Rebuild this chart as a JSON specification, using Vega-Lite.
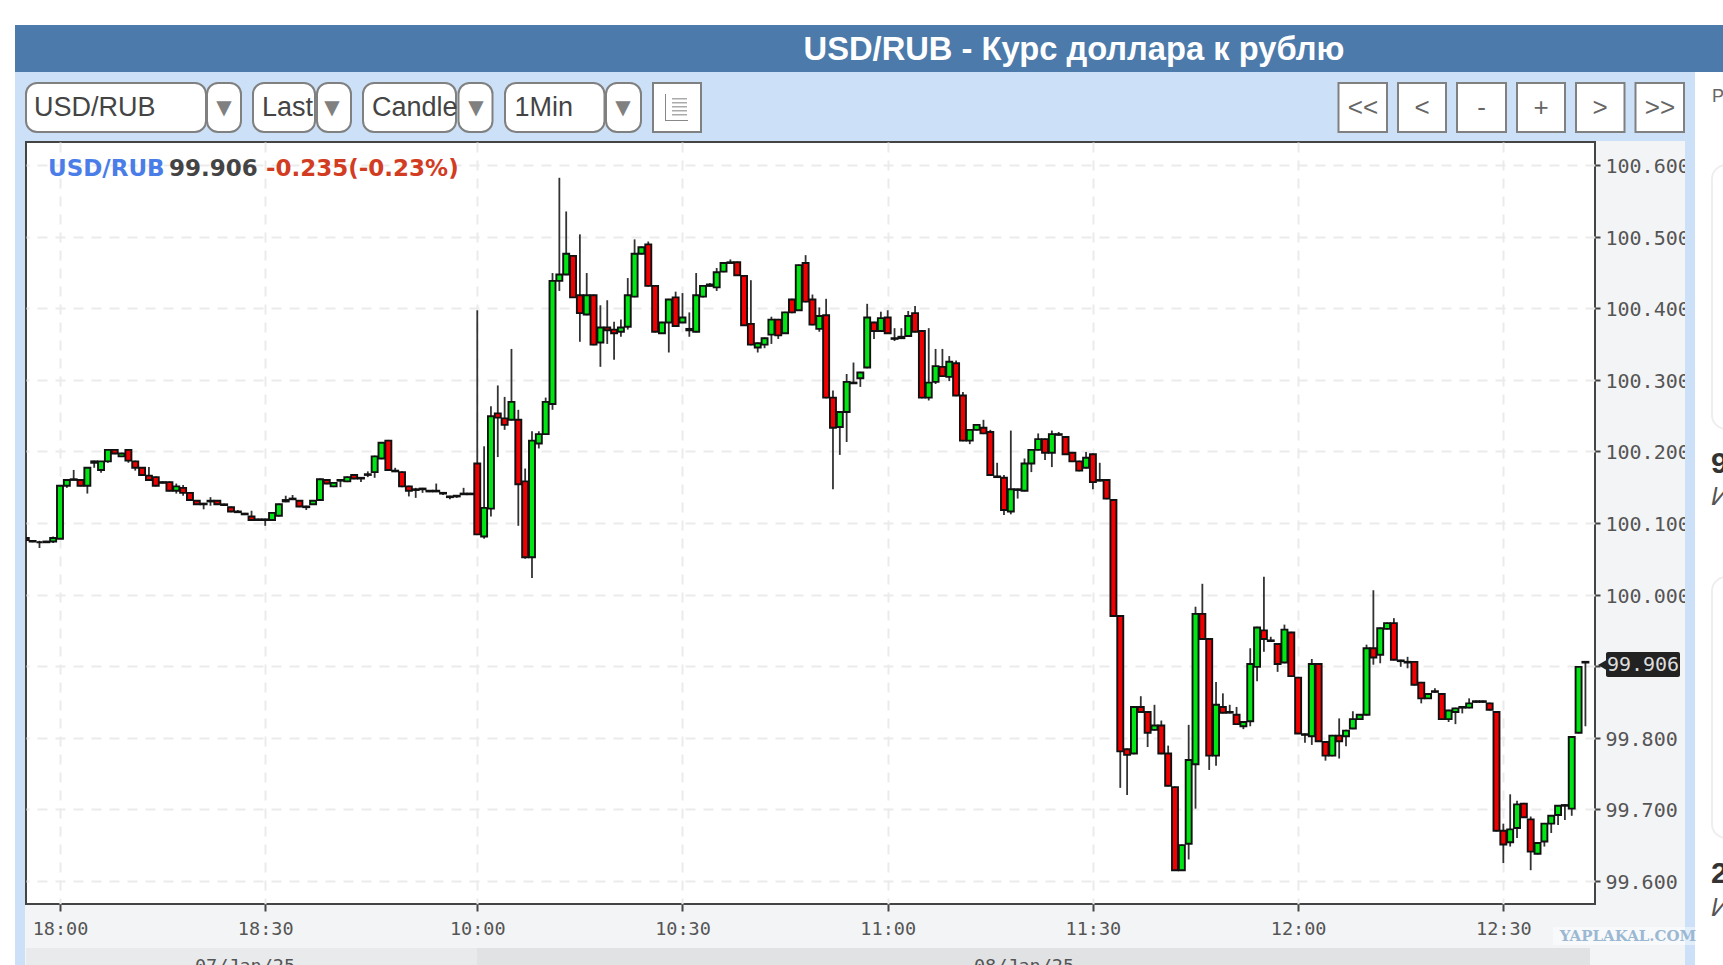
{
"$schema":"https://vega.github.io/schema/vega-lite/v6.json",
"width":1569,"height":762,
"autosize":"none",
"padding":{"left":26,"top":142,"right":128,"bottom":61},
"background":"#f3f4f6",
"view":{"fill":"#ffffff","stroke":"#444444","strokeWidth":2},
"data":{"values":[
{"i":-5,"open":100.079,"high":100.086,"low":100.074,"close":100.076},
{"i":-4,"open":100.075,"high":100.076,"low":100.073,"close":100.074},
{"i":-3,"open":100.073,"high":100.075,"low":100.065,"close":100.073},
{"i":-2,"open":100.074,"high":100.075,"low":100.072,"close":100.073},
{"i":-1,"open":100.074,"high":100.081,"low":100.072,"close":100.079},
{"i":0,"open":100.078,"high":100.152,"low":100.078,"close":100.152},
{"i":1,"open":100.152,"high":100.161,"low":100.149,"close":100.160},
{"i":2,"open":100.160,"high":100.174,"low":100.160,"close":100.161},
{"i":3,"open":100.160,"high":100.161,"low":100.151,"close":100.152},
{"i":4,"open":100.152,"high":100.177,"low":100.141,"close":100.177},
{"i":5,"open":100.184,"high":100.187,"low":100.177,"close":100.186},
{"i":6,"open":100.174,"high":100.186,"low":100.170,"close":100.186},
{"i":7,"open":100.186,"high":100.203,"low":100.184,"close":100.202},
{"i":8,"open":100.202,"high":100.203,"low":100.196,"close":100.197},
{"i":9,"open":100.193,"high":100.198,"low":100.192,"close":100.197},
{"i":10,"open":100.202,"high":100.203,"low":100.184,"close":100.187},
{"i":11,"open":100.186,"high":100.187,"low":100.173,"close":100.177},
{"i":12,"open":100.177,"high":100.178,"low":100.166,"close":100.167},
{"i":13,"open":100.166,"high":100.178,"low":100.159,"close":100.160},
{"i":14,"open":100.164,"high":100.165,"low":100.151,"close":100.152},
{"i":15,"open":100.157,"high":100.158,"low":100.155,"close":100.156},
{"i":16,"open":100.157,"high":100.158,"low":100.144,"close":100.145},
{"i":17,"open":100.145,"high":100.155,"low":100.141,"close":100.151},
{"i":18,"open":100.149,"high":100.153,"low":100.138,"close":100.142},
{"i":19,"open":100.142,"high":100.143,"low":100.131,"close":100.132},
{"i":20,"open":100.131,"high":100.132,"low":100.125,"close":100.126},
{"i":21,"open":100.126,"high":100.128,"low":100.119,"close":100.127},
{"i":22,"open":100.130,"high":100.136,"low":100.124,"close":100.131},
{"i":23,"open":100.131,"high":100.132,"low":100.125,"close":100.126},
{"i":24,"open":100.126,"high":100.127,"low":100.124,"close":100.125},
{"i":25,"open":100.122,"high":100.123,"low":100.115,"close":100.116},
{"i":26,"open":100.116,"high":100.118,"low":100.114,"close":100.115},
{"i":27,"open":100.113,"high":100.114,"low":100.111,"close":100.112},
{"i":28,"open":100.109,"high":100.117,"low":100.103,"close":100.104},
{"i":29,"open":100.105,"high":100.106,"low":100.103,"close":100.104},
{"i":30,"open":100.105,"high":100.106,"low":100.096,"close":100.104},
{"i":31,"open":100.104,"high":100.115,"low":100.103,"close":100.114},
{"i":32,"open":100.110,"high":100.127,"low":100.109,"close":100.126},
{"i":33,"open":100.130,"high":100.138,"low":100.129,"close":100.132},
{"i":34,"open":100.133,"high":100.139,"low":100.132,"close":100.134},
{"i":35,"open":100.131,"high":100.132,"low":100.122,"close":100.123},
{"i":36,"open":100.123,"high":100.124,"low":100.118,"close":100.122},
{"i":37,"open":100.126,"high":100.132,"low":100.125,"close":100.131},
{"i":38,"open":100.132,"high":100.162,"low":100.131,"close":100.161},
{"i":39,"open":100.160,"high":100.161,"low":100.154,"close":100.155},
{"i":40,"open":100.151,"high":100.157,"low":100.150,"close":100.156},
{"i":41,"open":100.159,"high":100.161,"low":100.150,"close":100.160},
{"i":42,"open":100.158,"high":100.165,"low":100.157,"close":100.164},
{"i":43,"open":100.167,"high":100.168,"low":100.161,"close":100.162},
{"i":44,"open":100.163,"high":100.164,"low":100.157,"close":100.162},
{"i":45,"open":100.167,"high":100.172,"low":100.164,"close":100.168},
{"i":46,"open":100.171,"high":100.194,"low":100.163,"close":100.193},
{"i":47,"open":100.190,"high":100.213,"low":100.189,"close":100.212},
{"i":48,"open":100.215,"high":100.216,"low":100.173,"close":100.174},
{"i":49,"open":100.173,"high":100.177,"low":100.171,"close":100.172},
{"i":50,"open":100.171,"high":100.172,"low":100.150,"close":100.151},
{"i":51,"open":100.151,"high":100.152,"low":100.137,"close":100.145},
{"i":52,"open":100.147,"high":100.149,"low":100.135,"close":100.146},
{"i":53,"open":100.147,"high":100.149,"low":100.142,"close":100.148},
{"i":54,"open":100.145,"high":100.146,"low":100.143,"close":100.144},
{"i":55,"open":100.145,"high":100.155,"low":100.143,"close":100.144},
{"i":56,"open":100.142,"high":100.143,"low":100.139,"close":100.141},
{"i":57,"open":100.137,"high":100.138,"low":100.133,"close":100.136},
{"i":58,"open":100.137,"high":100.139,"low":100.135,"close":100.138},
{"i":59,"open":100.140,"high":100.149,"low":100.139,"close":100.141},
{"i":60,"open":100.141,"high":100.142,"low":100.139,"close":100.140},
{"i":61,"open":100.183,"high":100.397,"low":100.083,"close":100.084},
{"i":62,"open":100.081,"high":100.207,"low":100.078,"close":100.121},
{"i":63,"open":100.120,"high":100.263,"low":100.109,"close":100.249},
{"i":64,"open":100.253,"high":100.292,"low":100.192,"close":100.247},
{"i":65,"open":100.246,"high":100.276,"low":100.230,"close":100.237},
{"i":66,"open":100.244,"high":100.343,"low":100.243,"close":100.269},
{"i":67,"open":100.244,"high":100.258,"low":100.096,"close":100.154},
{"i":68,"open":100.158,"high":100.176,"low":100.050,"close":100.052},
{"i":69,"open":100.052,"high":100.228,"low":100.023,"close":100.215},
{"i":70,"open":100.211,"high":100.228,"low":100.204,"close":100.224},
{"i":71,"open":100.224,"high":100.275,"low":100.223,"close":100.269},
{"i":72,"open":100.266,"high":100.449,"low":100.258,"close":100.438},
{"i":73,"open":100.438,"high":100.582,"low":100.424,"close":100.447},
{"i":74,"open":100.447,"high":100.535,"low":100.446,"close":100.476},
{"i":75,"open":100.473,"high":100.474,"low":100.414,"close":100.415},
{"i":76,"open":100.418,"high":100.503,"low":100.353,"close":100.393},
{"i":77,"open":100.391,"high":100.449,"low":100.390,"close":100.418},
{"i":78,"open":100.418,"high":100.419,"low":100.348,"close":100.349},
{"i":79,"open":100.352,"high":100.404,"low":100.318,"close":100.373},
{"i":80,"open":100.373,"high":100.411,"low":100.350,"close":100.369},
{"i":81,"open":100.370,"high":100.381,"low":100.328,"close":100.365},
{"i":82,"open":100.367,"high":100.384,"low":100.360,"close":100.373},
{"i":83,"open":100.374,"high":100.442,"low":100.370,"close":100.418},
{"i":84,"open":100.416,"high":100.496,"low":100.415,"close":100.476},
{"i":85,"open":100.476,"high":100.486,"low":100.475,"close":100.485},
{"i":86,"open":100.489,"high":100.493,"low":100.430,"close":100.431},
{"i":87,"open":100.431,"high":100.432,"low":100.366,"close":100.367},
{"i":88,"open":100.365,"high":100.381,"low":100.364,"close":100.380},
{"i":89,"open":100.380,"high":100.413,"low":100.338,"close":100.412},
{"i":90,"open":100.415,"high":100.423,"low":100.374,"close":100.375},
{"i":91,"open":100.380,"high":100.421,"low":100.379,"close":100.387},
{"i":92,"open":100.371,"high":100.394,"low":100.360,"close":100.369},
{"i":93,"open":100.367,"high":100.449,"low":100.366,"close":100.418},
{"i":94,"open":100.416,"high":100.432,"low":100.415,"close":100.431},
{"i":95,"open":100.431,"high":100.435,"low":100.430,"close":100.433},
{"i":96,"open":100.429,"high":100.456,"low":100.424,"close":100.450},
{"i":97,"open":100.451,"high":100.464,"low":100.450,"close":100.463},
{"i":98,"open":100.463,"high":100.468,"low":100.462,"close":100.464},
{"i":99,"open":100.464,"high":100.465,"low":100.445,"close":100.446},
{"i":100,"open":100.445,"high":100.446,"low":100.375,"close":100.376},
{"i":101,"open":100.378,"high":100.439,"low":100.348,"close":100.349},
{"i":102,"open":100.345,"high":100.352,"low":100.338,"close":100.351},
{"i":103,"open":100.349,"high":100.359,"low":100.344,"close":100.358},
{"i":104,"open":100.363,"high":100.388,"low":100.350,"close":100.384},
{"i":105,"open":100.384,"high":100.385,"low":100.357,"close":100.362},
{"i":106,"open":100.365,"high":100.395,"low":100.364,"close":100.394},
{"i":107,"open":100.412,"high":100.413,"low":100.393,"close":100.394},
{"i":108,"open":100.397,"high":100.461,"low":100.396,"close":100.460},
{"i":109,"open":100.463,"high":100.474,"low":100.408,"close":100.409},
{"i":110,"open":100.412,"high":100.419,"low":100.376,"close":100.377},
{"i":111,"open":100.371,"high":100.401,"low":100.367,"close":100.389},
{"i":112,"open":100.390,"high":100.413,"low":100.274,"close":100.275},
{"i":113,"open":100.275,"high":100.285,"low":100.147,"close":100.233},
{"i":114,"open":100.234,"high":100.256,"low":100.195,"close":100.255},
{"i":115,"open":100.255,"high":100.308,"low":100.213,"close":100.297},
{"i":116,"open":100.296,"high":100.324,"low":100.294,"close":100.295},
{"i":117,"open":100.302,"high":100.311,"low":100.290,"close":100.310},
{"i":118,"open":100.317,"high":100.406,"low":100.316,"close":100.387},
{"i":119,"open":100.380,"high":100.381,"low":100.357,"close":100.368},
{"i":120,"open":100.368,"high":100.395,"low":100.367,"close":100.386},
{"i":121,"open":100.387,"high":100.397,"low":100.364,"close":100.365},
{"i":122,"open":100.358,"high":100.372,"low":100.354,"close":100.357},
{"i":123,"open":100.358,"high":100.372,"low":100.357,"close":100.360},
{"i":124,"open":100.361,"high":100.396,"low":100.360,"close":100.389},
{"i":125,"open":100.393,"high":100.403,"low":100.366,"close":100.367},
{"i":126,"open":100.368,"high":100.369,"low":100.274,"close":100.275},
{"i":127,"open":100.275,"high":100.372,"low":100.271,"close":100.296},
{"i":128,"open":100.297,"high":100.343,"low":100.294,"close":100.319},
{"i":129,"open":100.318,"high":100.343,"low":100.304,"close":100.305},
{"i":130,"open":100.304,"high":100.333,"low":100.298,"close":100.325},
{"i":131,"open":100.323,"high":100.327,"low":100.277,"close":100.278},
{"i":132,"open":100.278,"high":100.283,"low":100.214,"close":100.215},
{"i":133,"open":100.215,"high":100.231,"low":100.210,"close":100.230},
{"i":134,"open":100.230,"high":100.238,"low":100.229,"close":100.237},
{"i":135,"open":100.233,"high":100.244,"low":100.224,"close":100.225},
{"i":136,"open":100.227,"high":100.230,"low":100.166,"close":100.167},
{"i":137,"open":100.165,"high":100.184,"low":100.163,"close":100.164},
{"i":138,"open":100.163,"high":100.167,"low":100.111,"close":100.118},
{"i":139,"open":100.116,"high":100.229,"low":100.112,"close":100.147},
{"i":140,"open":100.146,"high":100.148,"low":100.134,"close":100.147},
{"i":141,"open":100.145,"high":100.190,"low":100.144,"close":100.183},
{"i":142,"open":100.183,"high":100.203,"low":100.171,"close":100.202},
{"i":143,"open":100.202,"high":100.225,"low":100.201,"close":100.217},
{"i":144,"open":100.217,"high":100.218,"low":100.188,"close":100.198},
{"i":145,"open":100.198,"high":100.229,"low":100.178,"close":100.224},
{"i":146,"open":100.224,"high":100.227,"low":100.222,"close":100.223},
{"i":147,"open":100.220,"high":100.221,"low":100.195,"close":100.196},
{"i":148,"open":100.198,"high":100.199,"low":100.185,"close":100.186},
{"i":149,"open":100.186,"high":100.187,"low":100.172,"close":100.173},
{"i":150,"open":100.177,"high":100.199,"low":100.176,"close":100.191},
{"i":151,"open":100.196,"high":100.197,"low":100.147,"close":100.157},
{"i":152,"open":100.160,"high":100.184,"low":100.158,"close":100.159},
{"i":153,"open":100.160,"high":100.161,"low":100.133,"close":100.134},
{"i":154,"open":100.132,"high":100.133,"low":99.969,"close":99.970},
{"i":155,"open":99.970,"high":99.971,"low":99.730,"close":99.781},
{"i":156,"open":99.784,"high":99.785,"low":99.720,"close":99.776},
{"i":157,"open":99.778,"high":99.844,"low":99.777,"close":99.843},
{"i":158,"open":99.843,"high":99.858,"low":99.835,"close":99.836},
{"i":159,"open":99.836,"high":99.837,"low":99.787,"close":99.807},
{"i":160,"open":99.811,"high":99.846,"low":99.810,"close":99.817},
{"i":161,"open":99.817,"high":99.824,"low":99.777,"close":99.778},
{"i":162,"open":99.778,"high":99.789,"low":99.732,"close":99.733},
{"i":163,"open":99.731,"high":99.732,"low":99.614,"close":99.615},
{"i":164,"open":99.615,"high":99.651,"low":99.614,"close":99.650},
{"i":165,"open":99.652,"high":99.818,"low":99.630,"close":99.769},
{"i":166,"open":99.763,"high":99.983,"low":99.701,"close":99.973},
{"i":167,"open":99.973,"high":100.015,"low":99.937,"close":99.938},
{"i":168,"open":99.938,"high":99.939,"low":99.755,"close":99.775},
{"i":169,"open":99.775,"high":99.878,"low":99.761,"close":99.846},
{"i":170,"open":99.843,"high":99.862,"low":99.834,"close":99.835},
{"i":171,"open":99.836,"high":99.846,"low":99.834,"close":99.835},
{"i":172,"open":99.832,"high":99.843,"low":99.818,"close":99.819},
{"i":173,"open":99.816,"high":99.823,"low":99.812,"close":99.822},
{"i":174,"open":99.823,"high":99.925,"low":99.816,"close":99.903},
{"i":175,"open":99.899,"high":99.955,"low":99.879,"close":99.954},
{"i":176,"open":99.950,"high":100.025,"low":99.920,"close":99.938},
{"i":177,"open":99.936,"high":99.941,"low":99.934,"close":99.935},
{"i":178,"open":99.931,"high":99.932,"low":99.892,"close":99.903},
{"i":179,"open":99.905,"high":99.958,"low":99.904,"close":99.951},
{"i":180,"open":99.947,"high":99.948,"low":99.885,"close":99.886},
{"i":181,"open":99.884,"high":99.885,"low":99.805,"close":99.806},
{"i":182,"open":99.805,"high":99.806,"low":99.793,"close":99.804},
{"i":183,"open":99.802,"high":99.910,"low":99.790,"close":99.903},
{"i":184,"open":99.903,"high":99.904,"low":99.794,"close":99.795},
{"i":185,"open":99.794,"high":99.795,"low":99.768,"close":99.775},
{"i":186,"open":99.775,"high":99.804,"low":99.774,"close":99.803},
{"i":187,"open":99.803,"high":99.827,"low":99.771,"close":99.795},
{"i":188,"open":99.802,"high":99.811,"low":99.788,"close":99.810},
{"i":189,"open":99.813,"high":99.837,"low":99.812,"close":99.826},
{"i":190,"open":99.826,"high":99.833,"low":99.825,"close":99.832},
{"i":191,"open":99.832,"high":99.930,"low":99.831,"close":99.925},
{"i":192,"open":99.925,"high":100.006,"low":99.902,"close":99.912},
{"i":193,"open":99.916,"high":99.954,"low":99.904,"close":99.953},
{"i":194,"open":99.952,"high":99.961,"low":99.951,"close":99.960},
{"i":195,"open":99.960,"high":99.967,"low":99.908,"close":99.909},
{"i":196,"open":99.908,"high":99.909,"low":99.899,"close":99.907},
{"i":197,"open":99.906,"high":99.913,"low":99.897,"close":99.905},
{"i":198,"open":99.906,"high":99.907,"low":99.873,"close":99.874},
{"i":199,"open":99.877,"high":99.878,"low":99.848,"close":99.855},
{"i":200,"open":99.855,"high":99.862,"low":99.854,"close":99.861},
{"i":201,"open":99.864,"high":99.869,"low":99.863,"close":99.865},
{"i":202,"open":99.861,"high":99.862,"low":99.825,"close":99.826},
{"i":203,"open":99.826,"high":99.839,"low":99.822,"close":99.838},
{"i":204,"open":99.836,"high":99.842,"low":99.819,"close":99.841},
{"i":205,"open":99.842,"high":99.844,"low":99.834,"close":99.843},
{"i":206,"open":99.842,"high":99.855,"low":99.841,"close":99.848},
{"i":207,"open":99.850,"high":99.852,"low":99.849,"close":99.851},
{"i":208,"open":99.851,"high":99.852,"low":99.849,"close":99.850},
{"i":209,"open":99.848,"high":99.849,"low":99.838,"close":99.839},
{"i":210,"open":99.836,"high":99.837,"low":99.669,"close":99.670},
{"i":211,"open":99.670,"high":99.680,"low":99.625,"close":99.651},
{"i":212,"open":99.654,"high":99.721,"low":99.648,"close":99.672},
{"i":213,"open":99.674,"high":99.712,"low":99.660,"close":99.707},
{"i":214,"open":99.708,"high":99.709,"low":99.688,"close":99.689},
{"i":215,"open":99.686,"high":99.690,"low":99.615,"close":99.641},
{"i":216,"open":99.638,"high":99.654,"low":99.637,"close":99.653},
{"i":217,"open":99.655,"high":99.681,"low":99.648,"close":99.680},
{"i":218,"open":99.680,"high":99.692,"low":99.667,"close":99.691},
{"i":219,"open":99.692,"high":99.706,"low":99.678,"close":99.705},
{"i":220,"open":99.705,"high":99.707,"low":99.685,"close":99.706},
{"i":221,"open":99.701,"high":99.802,"low":99.691,"close":99.801},
{"i":222,"open":99.807,"high":99.900,"low":99.806,"close":99.899},
{"i":223,"open":99.905,"high":99.907,"low":99.816,"close":99.906}
]},
"layer":[
{
"encoding":{
"x":{"field":"i","type":"quantitative","title":null,
"scale":{"domain":[-4.97,224.4],"nice":false,"zero":false,"padding":0},
"axis":{"values":[0,30,61,91,121,151,181,211],
"labelExpr":"{'0':'18:00','30':'18:30','61':'10:00','91':'10:30','121':'11:00','151':'11:30','181':'12:00','211':'12:30'}[datum.value]",
"domain":false,"tickColor":"#444444","tickSize":7,"tickWidth":2,"labelFont":"DejaVu Sans Mono","labelFontSize":18.5,"labelColor":"#555555","labelPadding":8,
"grid":true,"gridColor":"#ebebeb","gridWidth":2,"gridDash":[10,8]}},
"y":{"field":"low","type":"quantitative","title":null,
"scale":{"domain":[99.5678,100.632],"nice":false,"zero":false,"padding":0},
"axis":{"orient":"right","values":[99.6,99.7,99.8,99.9,100,100.1,100.2,100.3,100.4,100.5,100.6],"format":".3f",
"domain":false,"tickColor":"#444444","tickSize":5,"tickWidth":2,"labelFont":"DejaVu Sans Mono","labelFontSize":20,"labelColor":"#555555","labelPadding":5,"labelAlign":"left","labelOffset":1.5,
"grid":true,"gridColor":"#ebebeb","gridWidth":2,"gridDash":[10,8]}}
},
"layer":[
{"mark":{"type":"rule","color":"#333333","strokeWidth":1.8,"clip":true},
"encoding":{"y2":{"field":"high"}}},
{"mark":{"type":"bar","orient":"vertical","size":6,"stroke":"#111111","strokeWidth":1.9,"clip":true},
"encoding":{
"y":{"field":"open","type":"quantitative"},
"y2":{"field":"close"},
"fill":{"condition":{"test":"datum.close >= datum.open","value":"#00e614"},"value":"#f00000"}}}
]
},
{
"data":{"values":[{}]},
"layer":[
{"mark":{"type":"rect","x":-26,"x2":-11,"y":-142,"y2":823,"fill":"#ffffff"}},
{"mark":{"type":"rect","x":-26,"x2":1697,"y":-142,"y2":-117,"fill":"#ffffff"}},
{"mark":{"type":"rect","x":-11,"x2":1697,"y":-117,"y2":-70,"fill":"#4c7aab"}},
{"mark":{"type":"rect","x":-11,"x2":1669,"y":-70,"y2":-1,"fill":"#cce0f7"}},
{"mark":{"type":"rect","x":-11,"x2":-1,"y":-1,"y2":823,"fill":"#cce0f7"}},
{"mark":{"type":"rect","x":1659,"x2":1669,"y":-1,"y2":823,"fill":"#cce0f7"}},
{"mark":{"type":"rect","x":1669,"x2":1697,"y":-70,"y2":823,"fill":"#ffffff"}},
{"mark":{"type":"rect","x":0,"x2":451,"y":806,"y2":823,"fill":"#e9eaec"}},
{"mark":{"type":"rect","x":451,"x2":1564,"y":806,"y2":823,"fill":"#e1e2e4"}},
{"mark":{"type":"text","text":"USD/RUB - Курс доллара к рублю","x":1048,"y":-92,"align":"center","baseline":"middle","font":"Liberation Sans","fontWeight":"bold","fontSize":32.7,"color":"#ffffff"}},
{"mark":{"type":"rect","x":0,"x2":180,"y":-59,"y2":-10,"fill":"#ffffff","stroke":"#808080","strokeWidth":2,"cornerRadius":11}},
{"mark":{"type":"rect","x":181,"x2":215,"y":-59,"y2":-10,"fill":"#ffffff","stroke":"#808080","strokeWidth":2,"cornerRadius":11}},
{"mark":{"type":"rect","x":227,"x2":289,"y":-59,"y2":-10,"fill":"#ffffff","stroke":"#808080","strokeWidth":2,"cornerRadius":11}},
{"mark":{"type":"rect","x":291,"x2":325,"y":-59,"y2":-10,"fill":"#ffffff","stroke":"#808080","strokeWidth":2,"cornerRadius":11}},
{"mark":{"type":"rect","x":337,"x2":430,"y":-59,"y2":-10,"fill":"#ffffff","stroke":"#808080","strokeWidth":2,"cornerRadius":11}},
{"mark":{"type":"rect","x":432.5,"x2":466.5,"y":-59,"y2":-10,"fill":"#ffffff","stroke":"#808080","strokeWidth":2,"cornerRadius":11}},
{"mark":{"type":"rect","x":479,"x2":578.5,"y":-59,"y2":-10,"fill":"#ffffff","stroke":"#808080","strokeWidth":2,"cornerRadius":11}},
{"mark":{"type":"rect","x":580,"x2":615,"y":-59,"y2":-10,"fill":"#ffffff","stroke":"#808080","strokeWidth":2,"cornerRadius":11}},
{"mark":{"type":"rect","x":627,"x2":675,"y":-59,"y2":-10,"fill":"#ffffff","stroke":"#808080","strokeWidth":2}},
{"mark":{"type":"rect","x":639,"x2":640,"y":-48,"y2":-21,"fill":"#888888"}},
{"mark":{"type":"rect","x":639,"x2":662,"y":-22,"y2":-21,"fill":"#888888"}},
{"mark":{"type":"rect","x":646,"x2":661,"y":-44,"y2":-42.5,"fill":"#aaaaaa"}},
{"mark":{"type":"rect","x":646,"x2":661,"y":-40,"y2":-38.5,"fill":"#aaaaaa"}},
{"mark":{"type":"rect","x":646,"x2":661,"y":-36,"y2":-34.5,"fill":"#aaaaaa"}},
{"mark":{"type":"rect","x":646,"x2":661,"y":-32,"y2":-30.5,"fill":"#aaaaaa"}},
{"mark":{"type":"rect","x":646,"x2":661,"y":-28,"y2":-26.5,"fill":"#aaaaaa"}},
{"mark":{"type":"text","text":"USD/RUB","x":8,"y":-34.5,"align":"left","baseline":"middle","font":"Liberation Sans","fontSize":27,"color":"#444444"}},
{"mark":{"type":"text","text":"Last","x":236,"y":-34.5,"align":"left","baseline":"middle","font":"Liberation Sans","fontSize":27,"color":"#444444"}},
{"mark":{"type":"text","text":"Candle","x":346,"y":-34.5,"align":"left","baseline":"middle","font":"Liberation Sans","fontSize":27,"color":"#444444"}},
{"mark":{"type":"text","text":"1Min","x":488.5,"y":-34.5,"align":"left","baseline":"middle","font":"Liberation Sans","fontSize":27,"color":"#444444"}},
{"mark":{"type":"text","text":"▼","x":198,"y":-34,"align":"center","baseline":"middle","font":"DejaVu Sans","fontSize":20,"color":"#808080"}},
{"mark":{"type":"text","text":"▼","x":306,"y":-34,"align":"center","baseline":"middle","font":"DejaVu Sans","fontSize":20,"color":"#808080"}},
{"mark":{"type":"text","text":"▼","x":450,"y":-34,"align":"center","baseline":"middle","font":"DejaVu Sans","fontSize":20,"color":"#808080"}},
{"mark":{"type":"text","text":"▼","x":597,"y":-34,"align":"center","baseline":"middle","font":"DejaVu Sans","fontSize":20,"color":"#808080"}},
{"mark":{"type":"rect","x":1312.5,"x2":1361,"y":-59,"y2":-10,"fill":"#ffffff","stroke":"#808080","strokeWidth":2}},
{"mark":{"type":"rect","x":1372,"x2":1420,"y":-59,"y2":-10,"fill":"#ffffff","stroke":"#808080","strokeWidth":2}},
{"mark":{"type":"rect","x":1431,"x2":1480,"y":-59,"y2":-10,"fill":"#ffffff","stroke":"#808080","strokeWidth":2}},
{"mark":{"type":"rect","x":1491,"x2":1539,"y":-59,"y2":-10,"fill":"#ffffff","stroke":"#808080","strokeWidth":2}},
{"mark":{"type":"rect","x":1550,"x2":1598.5,"y":-59,"y2":-10,"fill":"#ffffff","stroke":"#808080","strokeWidth":2}},
{"mark":{"type":"rect","x":1609.5,"x2":1658,"y":-59,"y2":-10,"fill":"#ffffff","stroke":"#808080","strokeWidth":2}},
{"mark":{"type":"text","text":"<<","x":1337,"y":-34,"align":"center","baseline":"middle","font":"Liberation Sans","fontSize":26,"color":"#666666"}},
{"mark":{"type":"text","text":"<","x":1396,"y":-34,"align":"center","baseline":"middle","font":"Liberation Sans","fontSize":26,"color":"#666666"}},
{"mark":{"type":"text","text":"-","x":1455.5,"y":-34,"align":"center","baseline":"middle","font":"Liberation Sans","fontSize":26,"color":"#666666"}},
{"mark":{"type":"text","text":"+","x":1515,"y":-34,"align":"center","baseline":"middle","font":"Liberation Sans","fontSize":26,"color":"#666666"}},
{"mark":{"type":"text","text":">","x":1574,"y":-34,"align":"center","baseline":"middle","font":"Liberation Sans","fontSize":26,"color":"#666666"}},
{"mark":{"type":"text","text":">>","x":1634,"y":-34,"align":"center","baseline":"middle","font":"Liberation Sans","fontSize":26,"color":"#666666"}},
{"mark":{"type":"text","text":"USD/RUB","x":22,"y":26.5,"align":"left","baseline":"middle","font":"DejaVu Sans","fontWeight":"bold","fontSize":23,"color":"#4a7de8"}},
{"mark":{"type":"text","text":"99.906","x":143,"y":26.5,"align":"left","baseline":"middle","font":"DejaVu Sans","fontWeight":"bold","fontSize":23,"color":"#444444"}},
{"mark":{"type":"text","text":"-0.235(-0.23%)","x":240,"y":26.5,"align":"left","baseline":"middle","font":"DejaVu Sans","fontWeight":"bold","fontSize":23,"color":"#d23c22"}},
{"mark":{"type":"point","shape":"triangle-left","filled":true,"x":1576,"y":523,"size":90,"color":"#222222","opacity":1}},
{"mark":{"type":"rect","x":1580,"x2":1654,"y":510,"y2":535,"fill":"#222222","cornerRadius":2}},
{"mark":{"type":"text","text":"99.906","x":1617,"y":523,"align":"center","baseline":"middle","font":"DejaVu Sans Mono","fontSize":20,"color":"#dddddd"}},
{"mark":{"type":"text","text":"07/Jan/25","x":219,"y":830,"align":"center","baseline":"alphabetic","font":"DejaVu Sans Mono","fontSize":18.5,"color":"#555555"}},
{"mark":{"type":"text","text":"08/Jan/25","x":998,"y":830,"align":"center","baseline":"alphabetic","font":"DejaVu Sans Mono","fontSize":18.5,"color":"#555555"}},
{"mark":{"type":"rect","x":1527,"x2":1671,"y":785,"y2":803,"fill":"#ffffff","opacity":0.45}},
{"mark":{"type":"text","text":"YAPLAKAL.COM","x":1602,"y":794,"align":"center","baseline":"middle","font":"DejaVu Serif","fontWeight":"bold","fontSize":15,"color":"#9bb8d3"}},
{"mark":{"type":"rect","x":1686,"x2":1760,"y":23,"y2":287,"fill":"#ffffff","stroke":"#eeeeee","strokeWidth":2,"cornerRadius":14}},
{"mark":{"type":"rect","x":1686,"x2":1760,"y":435,"y2":696,"fill":"#ffffff","stroke":"#eeeeee","strokeWidth":2,"cornerRadius":14}},
{"mark":{"type":"text","text":"Р","x":1686,"y":-45,"align":"left","baseline":"middle","font":"Liberation Sans","fontSize":18,"color":"#666666"}},
{"mark":{"type":"text","text":"9","x":1685,"y":322,"align":"left","baseline":"middle","font":"Liberation Sans","fontWeight":"bold","fontSize":30,"color":"#333333"}},
{"mark":{"type":"text","text":"И","x":1685,"y":355,"align":"left","baseline":"middle","font":"Liberation Sans","fontStyle":"italic","fontSize":26,"color":"#555555"}},
{"mark":{"type":"text","text":"2","x":1685,"y":732,"align":"left","baseline":"middle","font":"Liberation Sans","fontWeight":"bold","fontSize":30,"color":"#333333"}},
{"mark":{"type":"text","text":"И","x":1685,"y":766,"align":"left","baseline":"middle","font":"Liberation Sans","fontStyle":"italic","fontSize":26,"color":"#555555"}}
]
}
]
}
